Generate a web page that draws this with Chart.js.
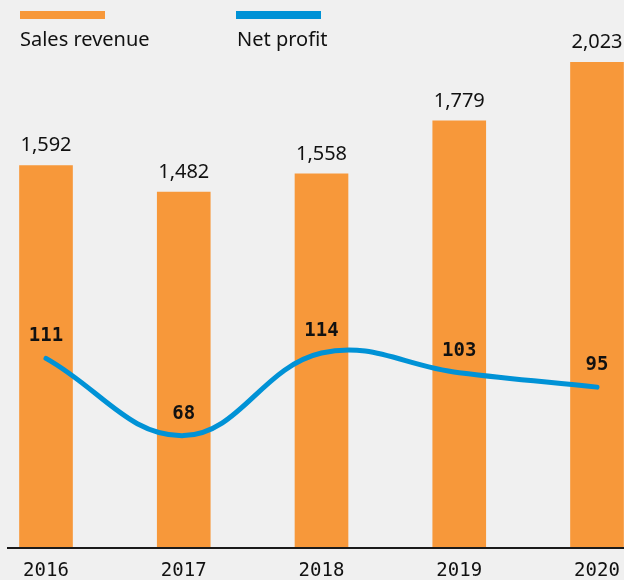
<!DOCTYPE html>
<html>
<head>
<meta charset="utf-8">
<script src="https://cdn.jsdelivr.net/npm/chart.js@4/dist/chart.umd.min.js"></script>
<style>
  html, body { margin: 0; padding: 0; background: #f0f0f0; }
  #wrap { position: relative; width: 624px; height: 580px; overflow: hidden; }
  #chart { position: absolute; left: 0; top: 0; }
  .swatch { position: absolute; top: 11px; width: 85px; height: 8px; }
  .legend-text { position: absolute; top: 29px; font: 20px/20px "Noto Sans", sans-serif; color: #111; white-space: nowrap; }
</style>
</head>
<body>
<div id="wrap">
  <canvas id="chart" width="624" height="580"></canvas>
  <div class="swatch" style="left:20px;background:#f7983a"></div>
  <div class="legend-text" style="left:20px">Sales revenue</div>
  <div class="swatch" style="left:236px;background:#0092d6"></div>
  <div class="legend-text" style="left:237px">Net profit</div>
</div>
<script>
// chart data
const years = ['2016', '2017', '2018', '2019', '2020'];
const salesRevenue = [1592, 1482, 1558, 1779, 2023];
const netProfit = [111, 68, 114, 103, 95];

const ORANGE = '#f7983a';
const BLUE = '#0092d6';

// value labels above bars and line points
const valueLabels = {
    id: 'valueLabels',
    afterDatasetsDraw(chart) {
        const ctx = chart.ctx;
        ctx.save();
        ctx.textAlign = 'center';
        ctx.textBaseline = 'middle';
        ctx.fillStyle = '#111';

        const barMeta = chart.getDatasetMeta(1);
        ctx.font = '20px "Noto Sans", sans-serif';
        barMeta.data.forEach((bar, i) => {
            ctx.fillText(salesRevenue[i].toLocaleString('en-US'), bar.x, bar.y - 20);
        });

        const lineMeta = chart.getDatasetMeta(0);
        ctx.font = 'bold 19px "DejaVu Sans Mono", monospace';
        lineMeta.data.forEach((pt, i) => {
            ctx.fillText(String(netProfit[i]), pt.x, pt.y - 22);
        });
        ctx.restore();
    }
};

// baseline spanning nearly the full width
const baseline = {
    id: 'baseline',
    afterDatasetsDraw(chart) {
        const ctx = chart.ctx;
        const y = chart.scales.y.getPixelForValue(0);
        ctx.save();
        ctx.strokeStyle = '#1a1a1a';
        ctx.lineWidth = 2;
        ctx.beginPath();
        ctx.moveTo(7, y + 1);
        ctx.lineTo(chart.width, y + 1);
        ctx.stroke();
        ctx.restore();
    }
};

new Chart(document.getElementById('chart'), {
    data: {
        labels: years,
        datasets: [{
            type: 'line',
            label: 'Net profit',
            data: netProfit,
            yAxisID: 'y2',
            borderColor: BLUE,
            borderWidth: 5,
            borderCapStyle: 'round',
            tension: 0.4,
            pointRadius: 0,
            fill: false,
            clip: false,
            order: 1
        }, {
            type: 'bar',
            label: 'Sales revenue',
            data: salesRevenue,
            yAxisID: 'y',
            backgroundColor: ORANGE,
            barThickness: 53,
            borderWidth: 0,
            clip: false,
            order: 2
        }]
    },
    options: {
        responsive: false,
        animation: false,
        layout: {
            padding: { top: 44, left: 46, right: 27, bottom: 0 }
        },
        scales: {
            x: {
                offset: false,
                grid: { display: false, drawTicks: false },
                border: { display: false },
                ticks: {
                    autoSkip: false,
                    maxRotation: 0,
                    padding: 13,
                    color: '#111',
                    font: { family: '"DejaVu Sans Mono", monospace', size: 19 }
                },
                afterFit: function(scale) {
                    scale.height = 33;
                    scale.paddingLeft = 0;
                    scale.paddingRight = 0;
                }
            },
            y: {
                display: false,
                min: 0,
                max: 2100
            },
            y2: {
                display: false,
                min: 6,
                max: 286
            }
        },
        plugins: {
            legend: { display: false },
            tooltip: { enabled: false }
        }
    },
    plugins: [valueLabels, baseline]
});
</script>
</body>
</html>
